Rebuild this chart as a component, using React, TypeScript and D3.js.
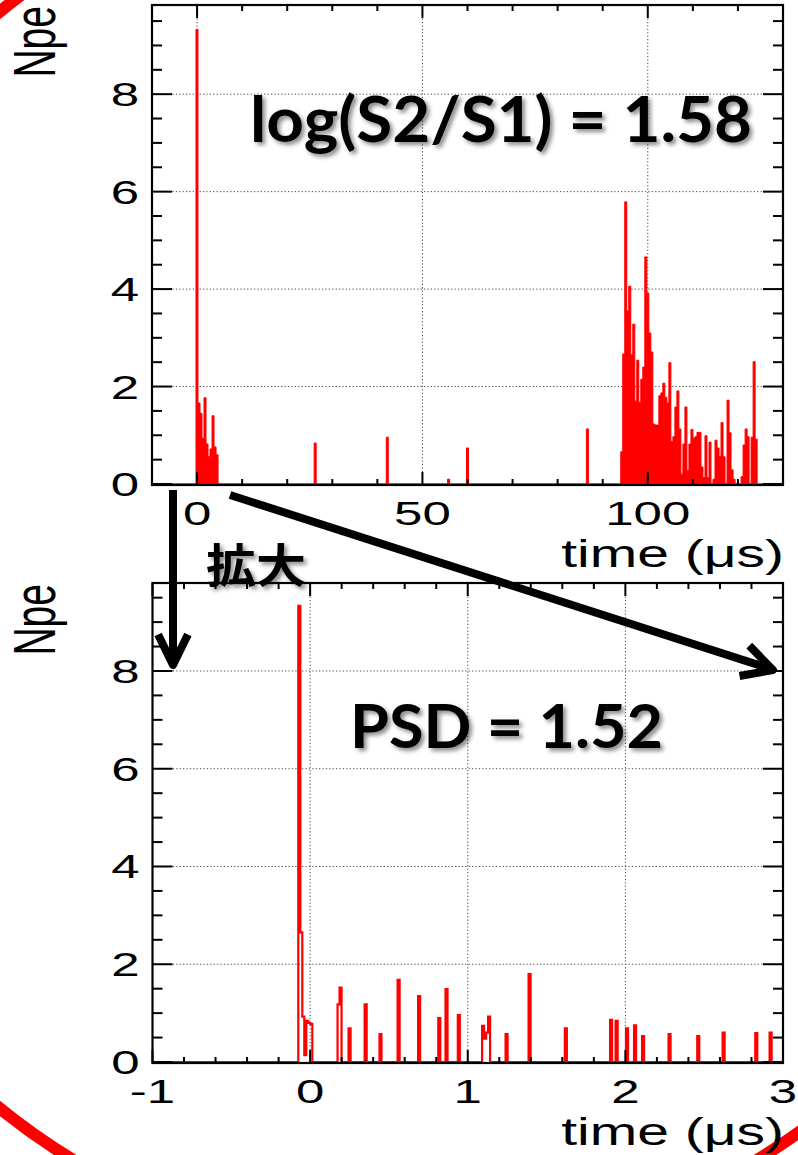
import React from 'react';
import * as d3 from 'd3';

const W = 798;
const H = 1155;

// ---------------- data ----------------
// Top panel: Npe vs time (µs), full waveform
const TOP_BIN_W = 0.445;
const topS1Start = -0.24;
const topS1Values = [9.33, 1.66, 1.45, 0.94, 1.77, 0.82, 0.56, 0.72, 1.4, 0.76, 0.6];
const topSpikeTimes = [26.2, 42.2, 55.8, 60.0, 86.6];
const topSpikeValues = [0.84, 0.96, 0.1, 0.74, 1.13];
const topS2Start = 94.0;
const topS2Values = [
  0.66, 2.67, 5.79, 3.55, 4.06, 2.65, 3.28, 1.7, 2.54, 1.67,
  2.15, 2.4, 4.66, 3.92, 3.1, 2.71, 1.23, 1.21, 1.21, 1.81,
  1.87, 2.07, 1.78, 1.66, 2.49, 0.87, 0.97, 1.58, 1.91, 1.13,
  0.2, 0.82, 1.58, 0.28, 0.82, 1.12, 0.94, 0.97, 1.06, 1.06,
  0.35, 0.13, 0.99, 0.13, 0.86, 0, 0.1, 0.9, 0.74, 0.57,
  1.26, 0.56, 0, 1.72, 1.05, 0.29, 0.1, 0, 0, 0,
  0.15, 0.8, 1.13, 0.97, 0, 0.96, 2.51, 0.92,
];

// Bottom panel: zoom around S1
const BOT_BIN_W = 0.0127;
const botTimes = [
  -0.075, -0.062, -0.049, -0.037, -0.024, -0.011, 0.001,
  0.174, 0.187, 0.244, 0.346, 0.44, 0.555, 0.685, 0.813, 0.859, 0.937,
  1.091, 1.104, 1.117, 1.13, 1.24, 1.386, 1.616,
  1.903, 1.938, 2.004, 2.055, 2.106, 2.274, 2.456, 2.617, 2.824, 2.915,
];
const botValues = [
  9.33, 2.65, 0.93, 0.14, 0.84, 0.8, 0.78,
  1.18, 1.52, 0.69, 1.18, 0.57, 1.68, 1.35, 0.9, 1.49, 0.96,
  0.74, 0.48, 0.6, 0.93, 0.57, 1.8, 0.69,
  0.86, 0.84, 0.69, 0.75, 0.53, 0.57, 0.53, 0.6, 0.59, 0.6,
];

const topXDomain = [-10, 130];
const botXDomain = [-1, 3];
const topYMax = 9.83;
const botYMax = 9.8;
const topXTicks = [0, 50, 100];
const topXMinorStep = 10;
const botXTicks = [-1, 0, 1, 2, 3];
const botXMinorStep = 0.2;
const yTicks = [0, 2, 4, 6, 8];
const yMinorStep = 0.5;
const xTitle = 'time (\u03bcs)';
const yTitle = 'Npe';
const topNote = 'log(S2/S1) = 1.58';
const botNote = 'PSD = 1.52';
const zoomNote = '拡大';

// ---------------- helpers ----------------
type Bin = { x0: number; x1: number; v: number };

function makeBins(starts: number[], values: number[], w: number): Bin[] {
  const bins = starts.map((s, i) => ({ x0: s, x1: s + w, v: values[i] }));
  bins.sort((a, b) => a.x0 - b.x0);
  // snap nearly adjacent bins together
  for (let i = 1; i < bins.length; i++) {
    const p = bins[i - 1];
    const b = bins[i];
    if (Math.abs(b.x0 - p.x1) < 0.35 * w) {
      b.x0 = p.x1;
      b.x1 = b.x0 + w;
    }
  }
  return bins;
}

function histPoints(bins: Bin[], xmin: number, xmax: number): [number, number][] {
  const pts: [number, number][] = [[xmin, 0]];
  let cur = xmin;
  bins.forEach((b, i) => {
    if (b.x0 > cur + 1e-9) pts.push([b.x0, 0]);
    pts.push([b.x0, b.v]);
    pts.push([b.x1, b.v]);
    const n = bins[i + 1];
    if (!n || n.x0 > b.x1 + 1e-9) pts.push([b.x1, 0]);
    cur = b.x1;
  });
  pts.push([xmax, 0]);
  return pts;
}

const PLOT_FONT = "'Liberation Sans', Arial, Helvetica, sans-serif";
const SX = 1.5; // the pasted plot is stretched horizontally

function PText(props: {
  x: number; y: number; size: number; anchor?: string; rotate?: number; children: React.ReactNode;
}) {
  const { x, y, size, anchor = 'start', rotate, children } = props;
  const tr = `translate(${x},${y}) scale(${SX},1)` + (rotate !== undefined ? ` rotate(${rotate})` : '');
  return (
    <text transform={tr} fontSize={size} textAnchor={anchor} fontFamily={PLOT_FONT} fill="#000">
      {children}
    </text>
  );
}

type PanelProps = {
  left: number; right: number; top: number; bottom: number;
  xDomain: number[]; yMax: number;
  xTicks: number[]; xMinorStep: number;
  bins: Bin[]; filled: boolean;
};

function Panel(p: PanelProps) {
  const x = d3.scaleLinear().domain(p.xDomain).range([p.left, p.right]);
  const y = d3.scaleLinear().domain([0, p.yMax]).range([p.bottom, p.top]);
  const xMinor = d3.range(p.xDomain[0], p.xDomain[1] + 1e-6, p.xMinorStep);
  const yMinor = d3.range(0, p.yMax, yMinorStep);
  const isMajorX = (t: number) => p.xTicks.some((m) => Math.abs(m - t) < 1e-6);
  const isMajorY = (t: number) => yTicks.some((m) => Math.abs(m - t) < 1e-6);
  const pts = histPoints(p.bins, p.xDomain[0], p.xDomain[1]);
  const line = d3.line<[number, number]>().x((d) => x(d[0])).y((d) => y(d[1]));
  const d = line(pts) || '';
  const fb = p.bottom + 1; // frame bottom line
  return (
    <g>
      {/* grid */}
      <g stroke="#444" strokeWidth={1} strokeDasharray="1.2,2.2">
        {p.xTicks.map((t) => (
          <line key={'gx' + t} x1={x(t)} x2={x(t)} y1={p.top} y2={p.bottom} />
        ))}
        {yTicks.filter((t) => t > 0).map((t) => (
          <line key={'gy' + t} x1={p.left} x2={p.right} y1={y(t)} y2={y(t)} />
        ))}
      </g>
      {/* histogram */}
      {p.filled ? (
        <path d={d + 'Z'} fill="#ff0000" stroke="#ff0000" strokeWidth={1} />
      ) : (
        <path d={d} fill="none" stroke="#ff0000" strokeWidth={2.2} />
      )}
      {/* frame */}
      <rect x={p.left} y={p.top} width={p.right - p.left} height={fb - p.top} fill="none" stroke="#000" strokeWidth={2.2} />
      {/* ticks */}
      <g stroke="#000" strokeWidth={2}>
        {xMinor.map((t) => {
          const L = isMajorX(t) ? 13 : 6;
          return (
            <g key={'tx' + t}>
              <line x1={x(t)} x2={x(t)} y1={fb} y2={fb - L} />
              <line x1={x(t)} x2={x(t)} y1={p.top} y2={p.top + L} />
            </g>
          );
        })}
        {yMinor.map((t) => {
          const L = isMajorY(t) ? 20 : 10;
          return (
            <g key={'ty' + t}>
              <line x1={p.left} x2={p.left + L} y1={y(t)} y2={y(t)} />
              <line x1={p.right} x2={p.right - L} y1={y(t)} y2={y(t)} />
            </g>
          );
        })}
      </g>
      {/* labels */}
      {yTicks.map((t) => (
        <PText key={'ly' + t} x={p.left - 13} y={y(t) + 12} size={34} anchor="end">
          {String(t)}
        </PText>
      ))}
      {p.xTicks.map((t) => (
        <PText key={'lx' + t} x={x(t)} y={p.bottom + 41} size={34} anchor="middle">
          {String(t)}
        </PText>
      ))}
      <PText x={p.right + 1} y={p.bottom + 83} size={38} anchor="end">
        {xTitle}
      </PText>
      <PText x={55} y={p.top + 1} size={39} anchor="end" rotate={-90}>
        {yTitle}
      </PText>
    </g>
  );
}

function arrowHead(tip: [number, number], from: [number, number], len: number, angDeg: number) {
  const dx = from[0] - tip[0];
  const dy = from[1] - tip[1];
  const n = Math.hypot(dx, dy);
  const ux = dx / n;
  const uy = dy / n;
  const a = (angDeg * Math.PI) / 180;
  const r = (s: number): [number, number] => [
    tip[0] + len * (ux * Math.cos(s * a) - uy * Math.sin(s * a)),
    tip[1] + len * (ux * Math.sin(s * a) + uy * Math.cos(s * a)),
  ];
  const p1 = r(1);
  const p2 = r(-1);
  return `M${p1[0]},${p1[1]}L${tip[0]},${tip[1]}L${p2[0]},${p2[1]}`;
}

export default function App() {
  const topBins = [
    ...makeBins(topS1Values.map((_, i) => topS1Start + i * TOP_BIN_W), topS1Values, TOP_BIN_W),
    ...makeBins(topSpikeTimes.map((t) => t - TOP_BIN_W / 2), topSpikeValues, TOP_BIN_W),
    ...makeBins(topS2Values.map((_, i) => topS2Start + i * TOP_BIN_W), topS2Values, TOP_BIN_W),
  ].sort((a, b) => a.x0 - b.x0);
  const botBins = makeBins(botTimes, botValues, BOT_BIN_W);

  const a1s: [number, number] = [173, 490];
  const a1t: [number, number] = [173, 665];
  const a2s: [number, number] = [230, 495];
  const a2t: [number, number] = [773, 670];

  return (
    <svg
      width={W}
      height={H}
      viewBox={`0 0 ${W} ${H}`}
      style={{ position: 'absolute', left: 0, top: 0, background: '#fff', display: 'block' }}
    >
      <defs>
        <filter id="shadow" x="-10%" y="-20%" width="130%" height="160%">
          <feDropShadow dx="3" dy="3" stdDeviation="2" floodColor="#000" floodOpacity="0.45" />
        </filter>
      </defs>
      <rect x={0} y={0} width={W} height={H} fill="#fff" />
      <ellipse cx={415} cy={560} rx={674} ry={696} fill="none" stroke="#ff0000" strokeWidth={12} />

      <Panel
        left={152} right={783} top={5} bottom={484}
        xDomain={topXDomain} yMax={topYMax}
        xTicks={topXTicks} xMinorStep={topXMinorStep}
        bins={topBins} filled={true}
      />
      <Panel
        left={152.5} right={783} top={583} bottom={1062}
        xDomain={botXDomain} yMax={botYMax}
        xTicks={botXTicks} xMinorStep={botXMinorStep}
        bins={botBins} filled={false}
      />

      {/* arrows */}
      <g fill="none" stroke="#000" strokeWidth={8} strokeLinejoin="round">
        <path d={`M${a1s[0]},${a1s[1]}L${a1t[0]},${a1t[1] - 2}`} />
        <path d={arrowHead(a1t, a1s, 34, 26)} />
        <path d={`M${a2s[0]},${a2s[1]}L${a2t[0] - 2},${a2t[1] - 1}`} />
        <path d={arrowHead(a2t, a2s, 34, 28)} />
      </g>

      {/* annotations */}
      <g filter="url(#shadow)" fill="#000">
        <text x={250} y={142} fontFamily="Lato, 'Open Sans', sans-serif" fontWeight={700} fontSize={63}
          textLength={502} lengthAdjust="spacingAndGlyphs">
          {topNote}
        </text>
        <text x={350} y={748} fontFamily="Lato, 'Open Sans', sans-serif" fontWeight={700} fontSize={62}
          textLength={313} lengthAdjust="spacingAndGlyphs">
          {botNote}
        </text>
        <text x={206} y={582} fontFamily="'Noto Sans CJK JP', sans-serif" fontWeight={700} fontSize={46}
          textLength={100} lengthAdjust="spacingAndGlyphs">
          {zoomNote}
        </text>
      </g>
    </svg>
  );
}
